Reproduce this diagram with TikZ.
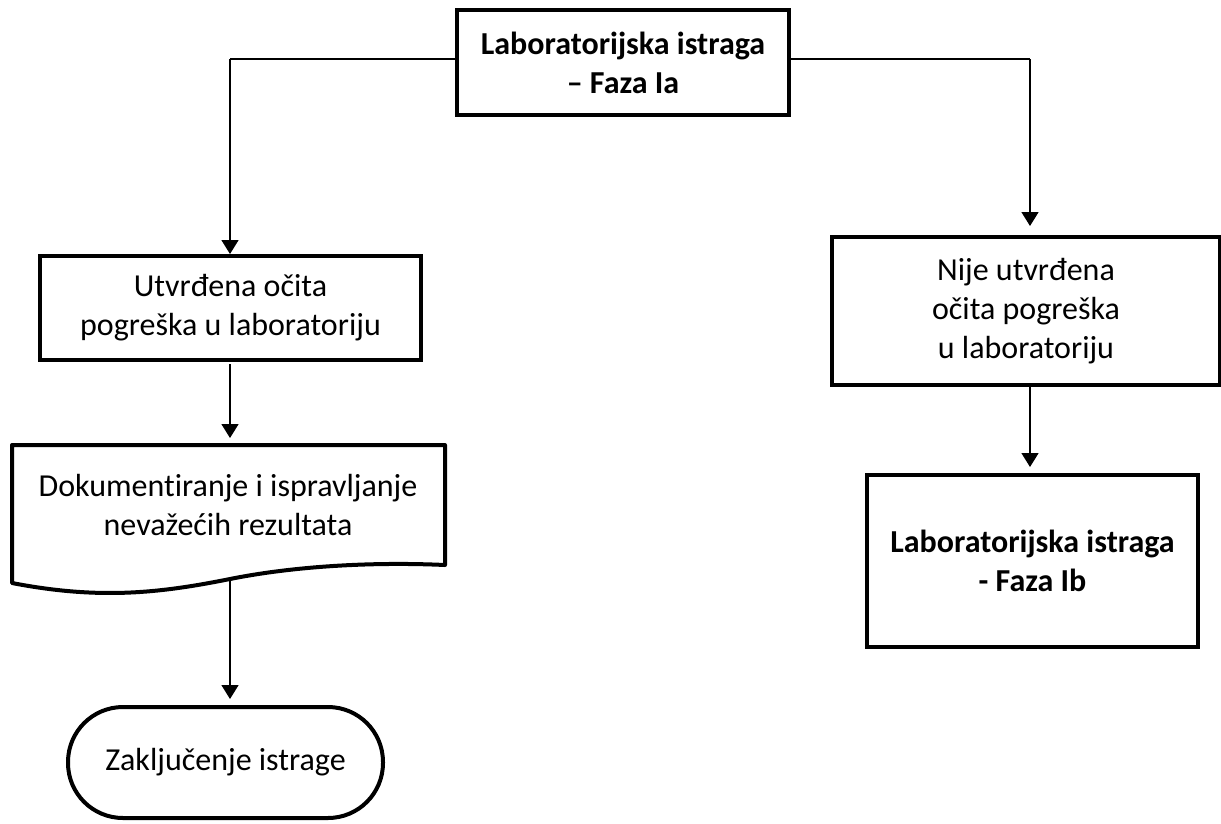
\documentclass[tikz,border=0pt]{standalone}
\usepackage{fontspec}
\setmainfont{Carlito}[Ligatures=NoCommon]
\usetikzlibrary{arrows.meta}
\begin{document}
\begin{tikzpicture}[x=1pt,y=-1pt,
  txt/.style={font=\fontsize{32}{39}\selectfont},
  box/.style={draw,line width=4pt,rectangle,minimum width=#1,inner sep=0pt,align=center,txt},
  conn/.style={line width=1.5pt,-{Triangle[width=17pt,length=14pt]}},
  plain/.style={line width=1.5pt}]
\useasboundingbox (0,0) rectangle (1221,823);
\node[box=332pt,minimum height=105pt,font=\fontsize{32}{39}\selectfont\bfseries] (top) at (623,62.5) {Laboratorijska istraga\\– Faza Ia};
\node[box=381pt,minimum height=104pt] (b1) at (230.5,308) {Utvrđena očita\\pogreška u laboratoriju};
\node[box=388pt,minimum height=148pt] (r1) at (1026,311) {Nije utvrđena\\očita pogreška\\u laboratoriju};
\node[box=331pt,minimum height=172pt,font=\fontsize{32}{39}\selectfont\bfseries] (r2) at (1032.5,561) {Laboratorijska istraga\\- Faza Ib};
\node[align=center,inner sep=0pt,txt] (doc) at (228,505) {Dokumentiranje i ispravljanje\\nevažećih rezultata};
\draw[line width=4pt,line join=round] (12,583) -- (12,445) -- (445,445) -- (445,565)
  .. controls (380,562) and (300,565) .. (230,579)
  .. controls (160,593) and (100,600) .. (12,583) -- cycle;
\coordinate (docb) at (230,579);
\node[box=315pt,minimum height=111pt,rounded corners=55pt] (term) at (225.5,762.5) {Zaključenje istrage};
\coordinate (lc) at (230,59);
\coordinate (rc) at (1030,59);
\coordinate (la) at (230,254);
\coordinate (ra) at (1030,226);
\draw[plain] (top.west |- lc) -- (lc);
\draw[conn] (lc) -- (la);
\draw[plain] (top.east |- rc) -- (rc);
\draw[conn] (rc) -- (ra);
\draw[conn] (b1.south -| la) ++(0,2) -- (230,438);
\draw[conn] (docb) -- (230,699);
\draw[conn] (1030,387) -- (1030,467);
\end{tikzpicture}
\end{document}
